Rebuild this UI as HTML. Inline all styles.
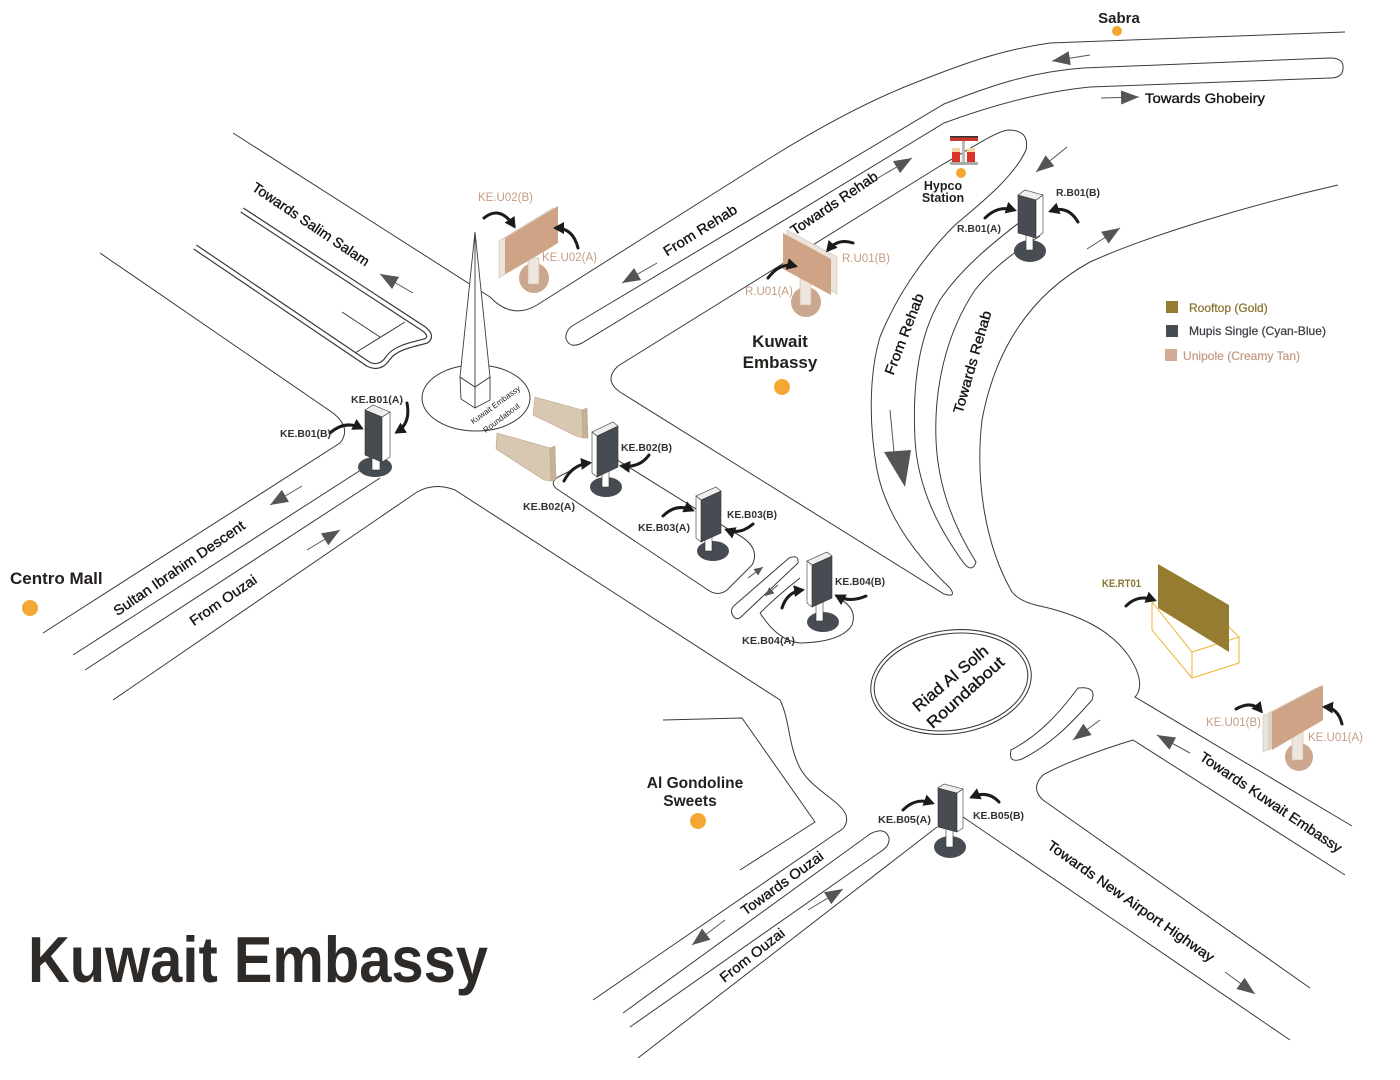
<!DOCTYPE html>
<html><head><meta charset="utf-8">
<style>
html,body{margin:0;padding:0;background:#fff}
svg{display:block}
text{font-family:"Liberation Sans",Arial,sans-serif}
</style></head>
<body>
<svg width="1400" height="1080" viewBox="0 0 1400 1080" xmlns="http://www.w3.org/2000/svg">
<defs>
<marker id="ga" markerUnits="userSpaceOnUse" markerWidth="20" markerHeight="14" refX="18" refY="7" orient="auto"><path d="M0,0 L18,7 L0,14 z" fill="#555"/></marker>
<marker id="gs" markerUnits="userSpaceOnUse" markerWidth="10" markerHeight="8" refX="9" refY="4" orient="auto"><path d="M0,0 L9,4 L0,8 z" fill="#555"/></marker>
<marker id="ba" markerUnits="userSpaceOnUse" markerWidth="12" markerHeight="12" refX="8" refY="6" orient="auto"><path d="M0,0 L11,6 L0,12 z" fill="#1b1b1b"/></marker>
</defs>
<rect width="1400" height="1080" fill="#fff"/>

<!-- ROAD LINES -->
<g fill="none" stroke="#3a3a3a" stroke-width="1">
  <path d="M233,133 L490,297 Q512,320 537,305 L770,158 C820,127 870,100 917,82 C960,65 1000,50 1050,43 L1345,32"/>
  <path d="M572,326 L944,104 C990,86 1030,72 1083,68 L1330,58 Q1344,58 1343,68 Q1343,78 1330,78 L1090,87 C1040,92 990,106 944,123 L582,343 Q570,349 566,339 Q565,331 572,326 Z"/>
  <path d="M620,392 Q603,380 618,366 L940,166 C975,146 995,132 1008,130 Q1030,130 1026,150 C1015,175 985,200 955,225 C920,260 895,300 880,337 C870,370 868,420 877,470 C885,510 910,550 950,588 Q957,598 944,594 Z"/>
  <path d="M1020,222 C990,245 960,270 940,300 C920,335 912,380 915,440 C918,490 940,530 963,562 Q972,574 976,562 C956,530 938,490 936,440 C934,390 945,335 975,290 C995,265 1020,248 1040,236"/>
  <path d="M1338,185 C1250,205 1150,235 1090,262 C1030,295 995,350 982,420 C975,480 985,545 1012,592 Q1020,602 1040,606 C1080,615 1110,630 1128,655 C1142,675 1142,690 1135,697 L1352,826"/>
  <path d="M1345,875 L1133,740 C1100,750 1060,765 1043,775 Q1030,788 1043,800 L1310,988"/>
  <path d="M963,817 L1290,1040"/>
  <path d="M638,1058 L937,827"/>
  <path d="M623,1013 L870,834 Q885,826 889,838 Q890,846 880,852 L630,1027"/>
  <path d="M113,700 L417,492 Q435,482 455,490 L780,700 C790,720 788,745 800,768 C812,790 840,800 846,815 Q849,826 838,832 L593,1000"/>
  <path d="M663,720 L742,718 L815,822 L740,870"/>
  <path d="M100,253 L333,413 Q352,428 340,443 L43,633"/>
  <path d="M73,655 L367,466"/>
  <path d="M85,670 L380,478"/>
  <path d="M342,312 L380,337"/>
  <path d="M405,322 L355,353"/>
  <path d="M598,448 L733,532 Q762,546 752,565 L727,590 Q718,597 708,590 L557,489 Q549,483 558,477 L572,470"/>
  <path d="M734,617 Q728,610 736,604 L789,558 Q799,554 798,563 L742,616 Q737,621 734,617 Z"/>
  <path d="M760,613 Q776,597 800,578 M838,598 Q858,608 852,625 Q842,642 800,643 Q778,641 760,613"/>
  <path d="M1078,688 Q1097,686 1092,700 C1070,725 1050,745 1022,759 Q1008,764 1011,750 C1040,735 1060,712 1078,688 Z"/>
  <ellipse cx="476" cy="398" rx="54" ry="33"/>
</g>

<path d="M242,210 L424,329 Q433,336 426,341 C410,345 395,348 388,358 Q380,370 368,364 L195,247" fill="none" stroke="#3a3a3a" stroke-width="6"/>
<path d="M242,210 L424,329 Q433,336 426,341 C410,345 395,348 388,358 Q380,370 368,364 L195,247" fill="none" stroke="#fff" stroke-width="3.6"/>

<ellipse cx="951" cy="682" rx="79" ry="50" transform="rotate(-8 951 682)" fill="none" stroke="#3a3a3a" stroke-width="4.5"/>
<ellipse cx="951" cy="682" rx="79" ry="50" transform="rotate(-8 951 682)" fill="none" stroke="#fff" stroke-width="2.4"/>

<!-- Obelisk -->
<g fill="#fff" stroke="#3a3a3a" stroke-width="0.9">
  <polygon points="460,377 475,387 490,377 490,400 475,408 461,399"/>
  <line x1="475" y1="387" x2="475" y2="408"/>
  <polygon points="475,232 460,377 475,387 490,377"/>
  <line x1="475" y1="232" x2="475" y2="387"/>
</g>
<text transform="translate(497,407) rotate(-36)" font-size="8" text-anchor="middle" fill="#222">Kuwait Embassy</text>
<text transform="translate(503,420) rotate(-37)" font-size="8" text-anchor="middle" fill="#222">Roundabout</text>

<!-- Gray direction arrows -->
<g stroke="#555" stroke-width="1" fill="none">
  <line x1="1090" y1="55" x2="1052" y2="61" marker-end="url(#ga)"/>
  <line x1="1101" y1="98" x2="1139" y2="97" marker-end="url(#ga)"/>
  <line x1="413" y1="293" x2="380" y2="274" marker-end="url(#ga)"/>
  <line x1="657" y1="263" x2="622" y2="283" marker-end="url(#ga)"/>
  <line x1="878" y1="178" x2="912" y2="158" marker-end="url(#ga)"/>
  <line x1="1067" y1="147" x2="1036" y2="172" marker-end="url(#ga)"/>
  <line x1="1087" y1="249" x2="1120" y2="228" marker-end="url(#ga)"/>
  <line x1="302" y1="486" x2="270" y2="505" marker-end="url(#ga)"/>
  <line x1="307" y1="550" x2="340" y2="530" marker-end="url(#ga)"/>
  <line x1="725" y1="920" x2="692" y2="945" marker-end="url(#ga)"/>
  <line x1="808" y1="910" x2="843" y2="889" marker-end="url(#ga)"/>
  <line x1="1190" y1="753" x2="1157" y2="735" marker-end="url(#ga)"/>
  <line x1="1100" y1="720" x2="1073" y2="740" marker-end="url(#ga)"/>
  <line x1="1225" y1="972" x2="1255" y2="994" marker-end="url(#ga)"/>
  <line x1="748" y1="578" x2="763" y2="567" marker-end="url(#gs)"/>
  <line x1="778" y1="585" x2="765" y2="596" marker-end="url(#gs)"/>
  <line x1="890" y1="410" x2="894" y2="452"/>
</g>
<polygon points="884,452 911,450 905,487" fill="#555"/>

<!-- Barriers -->
<g stroke="#b9a68a" stroke-width="0.6">
  <polygon points="535,397 582,410 583,438 576,436 533,415" fill="#d8c8b1"/>
  <polygon points="582,410 587,408 588,438 583,438" fill="#c4b196"/>
  <polygon points="497,433 550,448 551,481 544,480 496,449" fill="#d8c8b1"/>
  <polygon points="550,448 555,446 556,480 551,481" fill="#c4b196"/>
</g>

<!-- Unipoles -->
<circle cx="534" cy="278" r="15" fill="#cba78f"/>
<rect x="528" y="258" width="11" height="26" fill="#ece6de" stroke="#d9b98f" stroke-width="0.6"/>
<polygon points="499,241 553,208 553,246 499,278" fill="#ebe4db" stroke="#cdbfae" stroke-width="0.6"/>
<polygon points="505,238 558,206 558,243 505,274" fill="#cea386"/>

<circle cx="806" cy="302" r="15" fill="#cba78f"/>
<rect x="800" y="275" width="11" height="30" fill="#ece6de" stroke="#d9b98f" stroke-width="0.6"/>
<polygon points="787,230 837,257 837,294 787,267" fill="#ebe4db" stroke="#cdbfae" stroke-width="0.6"/>
<polygon points="783,233 831,259 831,295 783,269" fill="#cea386"/>

<circle cx="1299" cy="757" r="14" fill="#cba78f"/>
<rect x="1292" y="730" width="11" height="30" fill="#ece6de" stroke="#d9b98f" stroke-width="0.6"/>
<polygon points="1263,716 1316,688 1316,724 1263,752" fill="#ebe4db" stroke="#cdbfae" stroke-width="0.6"/>
<polygon points="1268,714 1320,686 1320,722 1268,751" fill="#ddd3c7"/>
<polygon points="1272,712 1323,685 1323,720 1272,750" fill="#cea386"/>

<!-- RT01 box + panel -->
<g fill="none" stroke="#f0b232" stroke-width="1">
  <polyline points="1152,602 1192,652 1239,637 1239,663 1192,678 1152,630 1152,602"/>
  <line x1="1192" y1="652" x2="1192" y2="678"/>
  <line x1="1239" y1="637" x2="1222" y2="620"/>
</g>
<polygon points="1158,564 1229,605 1229,652 1158,608" fill="#957c31"/>

<!-- Mupis -->
<g stroke="#333" stroke-width="0.6">
  <ellipse cx="375" cy="467" rx="17" ry="10" fill="#474c53" stroke="none"/>
  <rect x="372" y="452" width="8" height="18" fill="#fff"/>
  <polygon points="365,410 382,417 382,462 365,455" fill="#474c53"/>
  <polygon points="382,417 390,412 390,457 382,462" fill="#fff"/>
  <polygon points="365,410 373,405 390,412 382,417" fill="#eee"/>

  <ellipse cx="950" cy="847" rx="16" ry="11" fill="#474c53" stroke="none"/>
  <rect x="946" y="827" width="7" height="20" fill="#fff"/>
  <polygon points="938,788 957,793 957,832 938,827" fill="#474c53"/>
  <polygon points="957,793 963,789 963,828 957,832" fill="#fff"/>
  <polygon points="938,788 944,784 963,789 957,793" fill="#eee"/>

  <ellipse cx="1030" cy="251" rx="16" ry="11" fill="#474c53" stroke="none"/>
  <rect x="1026" y="232" width="7" height="18" fill="#fff"/>
  <polygon points="1018,195 1036,200 1036,238 1018,233" fill="#474c53"/>
  <polygon points="1036,200 1043,195 1043,233 1036,238" fill="#fff"/>
  <polygon points="1018,195 1025,190 1043,195 1036,200" fill="#eee"/>

  <ellipse cx="606" cy="487" rx="16" ry="10" fill="#474c53" stroke="none"/>
  <rect x="602" y="468" width="7" height="19" fill="#fff"/>
  <polygon points="597,436 618,426 618,467 597,477" fill="#474c53"/>
  <polygon points="592,432 597,436 597,477 592,473" fill="#fff"/>
  <polygon points="592,432 613,422 618,426 597,436" fill="#eee"/>

  <ellipse cx="713" cy="551" rx="16" ry="10" fill="#474c53" stroke="none"/>
  <rect x="705" y="535" width="7" height="16" fill="#fff"/>
  <polygon points="701,500 721,491 721,533 701,542" fill="#474c53"/>
  <polygon points="696,496 701,500 701,542 696,538" fill="#fff"/>
  <polygon points="696,496 716,487 721,491 701,500" fill="#eee"/>

  <ellipse cx="823" cy="622" rx="16" ry="10" fill="#474c53" stroke="none"/>
  <rect x="816" y="602" width="7" height="19" fill="#fff"/>
  <polygon points="812,565 832,556 832,598 812,607" fill="#474c53"/>
  <polygon points="807,561 812,565 812,607 807,603" fill="#fff"/>
  <polygon points="807,561 827,552 832,556 812,565" fill="#eee"/>
</g>

<!-- Black curved arrows -->
<g fill="none" stroke="#1b1b1b" stroke-width="3" stroke-linecap="round">
  <path d="M484,218 Q500,205 514,226" marker-end="url(#ba)"/>
  <path d="M578,248 Q573,228 556,228" marker-end="url(#ba)"/>
  <path d="M853,243 Q838,238 828,250" marker-end="url(#ba)"/>
  <path d="M768,278 Q780,262 795,266" marker-end="url(#ba)"/>
  <path d="M985,218 Q998,205 1014,210" marker-end="url(#ba)"/>
  <path d="M1078,222 Q1068,205 1051,211" marker-end="url(#ba)"/>
  <path d="M330,433 Q345,420 361,428" marker-end="url(#ba)"/>
  <path d="M407,403 Q411,423 397,432" marker-end="url(#ba)"/>
  <path d="M564,481 Q572,465 589,463" marker-end="url(#ba)"/>
  <path d="M649,455 Q640,468 622,466" marker-end="url(#ba)"/>
  <path d="M663,516 Q676,503 692,510" marker-end="url(#ba)"/>
  <path d="M753,524 Q740,535 727,530" marker-end="url(#ba)"/>
  <path d="M782,608 Q787,592 802,590" marker-end="url(#ba)"/>
  <path d="M866,596 Q850,603 837,596" marker-end="url(#ba)"/>
  <path d="M903,810 Q916,797 932,803" marker-end="url(#ba)"/>
  <path d="M999,802 Q988,790 972,797" marker-end="url(#ba)"/>
  <path d="M1126,606 Q1138,594 1154,600" marker-end="url(#ba)"/>
  <path d="M1236,709 Q1252,700 1261,711" marker-end="url(#ba)"/>
  <path d="M1342,724 Q1338,708 1325,707" marker-end="url(#ba)"/>
</g>

<!-- Gas station icon -->
<g>
  <rect x="950" y="136" width="28" height="5" fill="#c8372c"/>
  <rect x="950" y="136" width="28" height="1.5" fill="#333"/>
  <rect x="962" y="141" width="3" height="22" fill="#bbb"/>
  <rect x="952" y="148" width="8" height="15" fill="#d9342b"/>
  <rect x="952" y="148" width="8" height="4" fill="#f3d6a0"/>
  <rect x="967" y="148" width="8" height="15" fill="#d9342b"/>
  <rect x="967" y="148" width="8" height="4" fill="#f3d6a0"/>
  <rect x="950" y="162" width="28" height="3" fill="#aaa"/>
</g>

<!-- Orange dots -->
<g fill="#f5a733">
  <circle cx="1117" cy="31" r="5"/>
  <circle cx="961" cy="173" r="5"/>
  <circle cx="782" cy="387" r="8"/>
  <circle cx="30" cy="608" r="8"/>
  <circle cx="698" cy="821" r="8"/>
</g>

<!-- Place names -->
<g fill="#231f1c" font-weight="bold">
  <text x="1119" y="23" font-size="15" text-anchor="middle">Sabra</text>
  <text x="943" y="190" font-size="12.5" text-anchor="middle">Hypco</text>
  <text x="943" y="202" font-size="12.5" text-anchor="middle">Station</text>
  <text x="780" y="347" font-size="17" text-anchor="middle">Kuwait</text>
  <text x="780" y="368" font-size="17" text-anchor="middle">Embassy</text>
  <text x="10" y="584" font-size="17">Centro Mall</text>
  <text x="695" y="788" font-size="15.5" text-anchor="middle">Al Gondoline</text>
  <text x="690" y="806" font-size="15.5" text-anchor="middle">Sweets</text>
</g>

<!-- Road labels -->
<g fill="#151515" stroke="#151515" stroke-width="0.35" font-size="14" text-anchor="middle">
  <text transform="translate(1145,103)" text-anchor="start" textLength="120" lengthAdjust="spacingAndGlyphs">Towards Ghobeiry</text>
  <text transform="translate(311,224) rotate(34)" dy="5" textLength="138" lengthAdjust="spacingAndGlyphs">Towards Salim Salam</text>
  <text transform="translate(700,230) rotate(-32)" dy="5" textLength="84" lengthAdjust="spacingAndGlyphs">From Rehab</text>
  <text transform="translate(834,203) rotate(-34)" dy="5" textLength="102" lengthAdjust="spacingAndGlyphs">Towards Rehab</text>
  <text transform="translate(904,334) rotate(-69)" dy="5" textLength="86" lengthAdjust="spacingAndGlyphs">From Rehab</text>
  <text transform="translate(972,362) rotate(-74)" dy="5" textLength="106" lengthAdjust="spacingAndGlyphs">Towards Rehab</text>
  <text transform="translate(179,568) rotate(-34.5)" dy="5" textLength="156" lengthAdjust="spacingAndGlyphs">Sultan Ibrahim Descent</text>
  <text transform="translate(223,600) rotate(-34.5)" dy="5" textLength="78" lengthAdjust="spacingAndGlyphs">From Ouzai</text>
  <text transform="translate(782,883) rotate(-36)" dy="5" textLength="98" lengthAdjust="spacingAndGlyphs">Towards Ouzai</text>
  <text transform="translate(752,955) rotate(-38)" dy="5" textLength="78" lengthAdjust="spacingAndGlyphs">From Ouzai</text>
  <text transform="translate(1131,901) rotate(35)" dy="5" textLength="200" lengthAdjust="spacingAndGlyphs">Towards New Airport Highway</text>
  <text transform="translate(1271,802) rotate(34)" dy="5" textLength="168" lengthAdjust="spacingAndGlyphs">Towards Kuwait Embassy</text>
  <text transform="translate(950,678) rotate(-40)" dy="6" font-size="16" textLength="93" lengthAdjust="spacingAndGlyphs">Riad Al Solh</text>
  <text transform="translate(965,692) rotate(-42)" dy="6" font-size="16" textLength="98" lengthAdjust="spacingAndGlyphs">Roundabout</text>
</g>

<!-- Billboard labels: dark -->
<g fill="#333" font-size="10.5" font-weight="bold">
  <text x="1056" y="196" textLength="44" lengthAdjust="spacingAndGlyphs">R.B01(B)</text>
  <text x="957" y="232" textLength="44" lengthAdjust="spacingAndGlyphs">R.B01(A)</text>
  <text x="351" y="403" textLength="52" lengthAdjust="spacingAndGlyphs">KE.B01(A)</text>
  <text x="280" y="437" textLength="51" lengthAdjust="spacingAndGlyphs">KE.B01(B)</text>
  <text x="621" y="451" textLength="51" lengthAdjust="spacingAndGlyphs">KE.B02(B)</text>
  <text x="523" y="510" textLength="52" lengthAdjust="spacingAndGlyphs">KE.B02(A)</text>
  <text x="727" y="518" textLength="50" lengthAdjust="spacingAndGlyphs">KE.B03(B)</text>
  <text x="638" y="531" textLength="52" lengthAdjust="spacingAndGlyphs">KE.B03(A)</text>
  <text x="835" y="585" textLength="50" lengthAdjust="spacingAndGlyphs">KE.B04(B)</text>
  <text x="742" y="644" textLength="53" lengthAdjust="spacingAndGlyphs">KE.B04(A)</text>
  <text x="878" y="823" textLength="53" lengthAdjust="spacingAndGlyphs">KE.B05(A)</text>
  <text x="973" y="819" textLength="51" lengthAdjust="spacingAndGlyphs">KE.B05(B)</text>
</g>
<!-- tan labels -->
<g fill="#c49c84" font-size="11.5">
  <text x="478" y="201">KE.U02(B)</text>
  <text x="542" y="261">KE.U02(A)</text>
  <text x="842" y="262">R.U01(B)</text>
  <text x="745" y="295">R.U01(A)</text>
  <text x="1206" y="726">KE.U01(B)</text>
  <text x="1308" y="741">KE.U01(A)</text>
</g>
<text x="1102" y="587" font-size="11" fill="#8b7330" font-weight="bold" textLength="39" lengthAdjust="spacingAndGlyphs">KE.RT01</text>

<!-- Legend -->
<rect x="1166" y="301" width="12" height="12" fill="#957c31"/>
<rect x="1166" y="325" width="12" height="12" fill="#474c53"/>
<rect x="1165" y="349" width="12" height="12" fill="#d1ab95"/>
<text x="1189" y="312" font-size="12" fill="#8b7330" stroke="#8b7330" stroke-width="0.25">Rooftop (Gold)</text>
<text x="1189" y="335" font-size="12" fill="#3c3f44" stroke="#3c3f44" stroke-width="0.25" textLength="137" lengthAdjust="spacingAndGlyphs">Mupis Single (Cyan-Blue)</text>
<text x="1183" y="360" font-size="12" fill="#c49c84" stroke="#c49c84" stroke-width="0.25" textLength="117" lengthAdjust="spacingAndGlyphs">Unipole (Creamy Tan)</text>

<!-- Title -->
<text x="28" y="982" font-size="65" font-weight="bold" fill="#2e2a27" textLength="460" lengthAdjust="spacingAndGlyphs">Kuwait Embassy</text>
</svg>
</body></html>
